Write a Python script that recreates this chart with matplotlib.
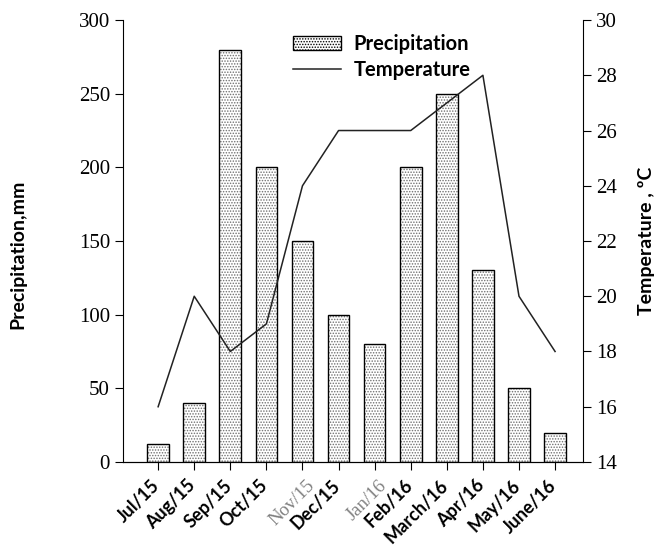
import matplotlib
matplotlib.use("Agg")
import matplotlib.pyplot as plt
from matplotlib.patches import Patch
import numpy as np

months = ["Jul/15", "Aug/15", "Sep/15", "Oct/15", "Nov/15", "Dec/15",
          "Jan/16", "Feb/16", "March/16", "Apr/16", "May/16", "June/16"]
precipitation = [12, 40, 280, 200, 150, 100, 80, 200, 250, 130, 50, 20]
temperature = [16, 20, 18, 19, 24, 26, 26, 26, 27, 28, 20, 18]
serif_labels = {"Nov/15", "Jan/16"}

sans = ["Lato", "DejaVu Sans"]
serif = ["Liberation Serif", "DejaVu Serif"]

fig = plt.figure(figsize=(6.62, 5.49), dpi=100)
ax = fig.add_axes([0.186, 0.1585, 0.695, 0.805])
x = np.arange(len(months))

plt.rcParams["hatch.linewidth"] = 0.7
ax.bar(x, precipitation, width=0.6, color="white", edgecolor="#707070",
       hatch="......", linewidth=0, zorder=2)
ax.bar(x, precipitation, width=0.6, fill=False, edgecolor="black",
       linewidth=1.0, zorder=3, label="Precipitation")

ax.set_xlim(-0.97, 11.78)
ax.set_ylim(0, 300)
ax.set_yticks(range(0, 301, 50))
ax.set_xticks(x)
ax.set_xticklabels([])
# category labels, rotated; two of them use a grey serif face as in the source
for xi, m in zip(x, months):
    if m in serif_labels:
        ax.text(xi + 0.1, -10, m, rotation=45, ha="right", va="top",
                rotation_mode="anchor", fontsize=13.5, family=serif,
                color="#808080")
    else:
        ax.text(xi - 0.2, -10, m, rotation=45, ha="right", va="top",
                rotation_mode="anchor", fontsize=13, family=sans,
                fontweight="bold")

ax.spines["top"].set_visible(False)
ax.spines["right"].set_visible(False)
ax.tick_params(axis="y", direction="out", length=6, labelsize=15)
ax.tick_params(axis="x", direction="out", length=6)
for lab in ax.get_yticklabels():
    lab.set_family(serif)
ax.set_ylabel("Precipitation,mm", fontsize=14, family=sans, fontweight="bold")
ax.yaxis.set_label_coords(-0.21, 0.47)

ax2 = ax.twinx()
ax2.plot(x, temperature, color="#222222", linewidth=1.1, label="Temperature")
ax2.set_ylim(14, 30)
ax2.set_yticks(range(14, 31, 2))
ax2.spines["top"].set_visible(False)
ax2.spines["left"].set_visible(False)
ax2.tick_params(axis="y", direction="out", length=6, labelsize=15)
for lab in ax2.get_yticklabels():
    lab.set_family(serif)
ax2.set_ylabel("Temperature , ºC", fontsize=14, family=sans, fontweight="bold")
ax2.yaxis.set_label_coords(1.12, 0.5)

h2, l2 = ax2.get_legend_handles_labels()
patch = Patch(facecolor="white", edgecolor="black", hatch="......", linewidth=1.0)
ax.legend([patch] + h2, ["Precipitation"] + l2, loc="upper left",
          bbox_to_anchor=(0.33, 1.01), frameon=False,
          prop={"family": sans, "weight": "bold", "size": 14.5},
          handlelength=2.4, handletextpad=0.6, labelspacing=0.3)

fig.savefig("out.png", dpi=100)
